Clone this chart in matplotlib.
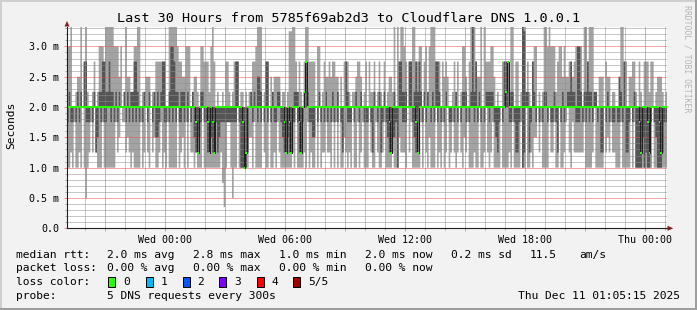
import numpy as np
import pandas as pd
import matplotlib
matplotlib.use("Agg")
import matplotlib.pyplot as plt
import matplotlib.dates as mdates
from matplotlib.ticker import MultipleLocator, FuncFormatter
from matplotlib.patches import Rectangle, Polygon

W, H, DPI = 697, 310, 100

TITLE = "Last 30 Hours from 5785f69ab2d3 to Cloudflare DNS 1.0.0.1"
Y_LABEL = "Seconds"
WATERMARK = "RRDTOOL / TOBI OETIKER"
START = "2025-12-09 19:05"
STEP_MINUTES = 5
LEVEL_MS = 0.25  # one level unit = 0.25 ms

# 5 pings per step, sorted: min, 2nd, median, 4th, max (in 0.25 ms units)
ping_max = [
    12,12,14,8,8,9,10,10,14,8,  11,14,9,8,8,9,11,8,9,12,
    12,12,11,14,14,14,14,14,12,12,  12,10,12,8,9,14,10,10,9,9,
    12,12,14,14,8,9,9,10,10,10,  8,9,9,11,11,11,11,11,11,8,
    8,14,14,14,14,14,12,11,11,10,  10,12,12,12,8,9,10,10,9,8,
    12,12,11,11,11,9,12,14,11,8,  9,8,8,9,8,11,11,9,8,9,
    11,11,11,8,9,9,8,9,8,9,  9,11,11,12,14,14,14,8,9,11,
    11,8,10,9,10,10,10,10,8,9,  9,8,9,13,13,14,14,11,9,11,
    9,8,11,14,14,11,11,11,11,8,  12,12,8,9,11,10,10,11,10,11,
    11,10,10,8,10,8,11,11,11,9,  8,9,9,10,11,11,10,8,9,11,
    8,11,9,9,11,8,9,11,9,8,  11,8,9,10,10,9,14,8,14,11,
    14,14,12,11,8,11,11,14,14,11,  11,12,12,8,11,12,9,12,14,14,
    14,11,11,11,8,11,10,11,10,8,  8,9,11,9,11,8,9,12,12,10,
    8,11,14,14,14,11,10,10,14,8,  14,11,11,11,12,12,10,8,9,8,
    8,11,11,11,11,9,14,14,8,11,  11,8,9,14,14,9,11,9,8,11,
    12,12,8,9,8,9,14,14,12,14,  12,12,12,9,11,12,12,10,12,10,
    10,11,11,10,11,12,12,12,12,8,  14,14,11,14,14,14,9,9,8,10,
    10,10,8,11,10,10,8,9,9,8,  8,10,14,14,11,11,8,10,10,11,
    11,9,8,11,9,8,11,11,11,9,  11,11,8,9,10,10,10,9,8,9,
]
ping_q4 = [
    8,9,8,8,8,8,9,8,9,8,  11,11,8,8,8,8,9,8,8,9,
    9,11,11,9,9,11,9,9,8,9,  8,9,8,8,9,8,9,8,9,9,
    11,11,9,8,8,8,9,8,8,9,  8,8,9,8,9,8,9,11,11,8,
    8,9,12,12,11,9,9,8,9,9,  9,8,9,8,8,9,8,8,8,8,
    9,9,8,8,8,8,8,8,8,8,  8,8,8,8,8,8,8,8,8,8,
    8,11,11,8,8,8,8,8,8,8,  9,8,9,8,10,10,9,8,8,11,
    11,8,8,9,8,8,9,9,8,8,  8,8,8,8,8,8,9,9,9,8,
    8,8,9,11,9,8,8,8,8,8,  8,9,8,8,8,9,8,8,8,9,
    8,8,9,8,8,8,8,11,9,8,  8,8,8,9,8,8,9,8,8,8,
    8,8,8,8,9,8,8,9,8,8,  9,8,8,8,8,8,9,8,8,11,
    11,9,9,9,8,11,11,8,9,11,  9,11,9,8,9,8,9,8,8,9,
    8,11,11,9,8,8,8,9,8,8,  8,8,8,9,8,8,8,9,9,9,
    8,8,9,14,9,11,8,9,8,8,  8,9,9,9,9,9,8,8,8,8,
    8,8,11,11,11,8,9,9,8,8,  8,8,8,14,13,9,9,8,8,11,
    9,8,8,8,8,8,9,9,8,8,  8,8,9,8,8,8,8,9,8,8,
    9,9,11,9,9,8,12,12,9,8,  9,9,11,9,9,8,9,9,8,8,
    8,8,8,8,9,8,8,8,8,8,  8,10,9,8,11,8,8,8,8,8,
    9,8,8,8,8,8,8,8,8,8,  8,8,8,8,8,8,8,8,8,8,
]
ping_median = [
    8,8,8,8,8,8,8,8,8,8,  8,8,8,8,8,8,8,8,8,8,
    8,8,8,8,8,8,8,8,8,8,  8,8,8,8,8,8,8,8,8,8,
    8,8,8,8,8,8,8,8,8,8,  8,8,8,8,8,8,8,8,8,8,
    8,8,8,8,8,8,8,8,8,8,  8,8,8,8,8,8,8,7,5,8,
    8,8,8,8,7,5,8,7,5,8,  8,8,8,8,8,8,8,8,8,8,
    8,8,8,8,8,7,4,5,8,8,  8,8,8,8,8,8,8,8,8,8,
    8,8,8,8,8,8,8,8,8,8,  7,5,8,7,5,8,8,8,8,7,
    5,8,9,11,8,8,8,8,8,8,  8,8,8,8,8,8,8,8,8,8,
    8,8,8,8,8,8,8,8,8,8,  8,8,8,8,8,8,8,8,8,8,
    8,8,8,8,8,8,8,8,8,8,  8,8,8,7,5,8,8,8,8,8,
    8,8,8,8,8,8,8,8,8,7,  5,8,8,8,8,8,8,8,8,8,
    8,8,8,8,8,8,8,8,8,8,  8,8,8,8,8,8,8,8,8,8,
    8,8,8,8,8,8,8,8,8,8,  8,8,8,8,8,8,8,8,8,8,
    8,8,8,9,11,8,8,8,8,8,  8,8,8,8,8,8,8,8,8,8,
    8,8,8,8,8,8,8,8,8,8,  8,8,8,8,8,8,8,8,8,8,
    8,8,8,8,8,8,8,8,8,8,  8,8,8,8,8,8,8,8,8,8,
    8,8,8,8,8,8,8,8,8,8,  8,8,8,8,8,8,8,8,8,8,
    8,8,8,7,5,8,8,8,7,5,  8,8,8,8,8,7,5,8,8,8,
]
ping_q2 = [
    7,8,7,7,8,7,8,7,8,8,  8,7,7,7,8,7,8,5,6,8,
    7,8,7,7,8,8,7,8,7,8,  7,8,8,8,8,7,8,7,8,7,
    8,7,8,7,8,7,8,8,7,8,  8,7,8,6,6,7,8,8,7,7,
    8,7,8,7,8,7,8,7,7,8,  7,8,7,8,7,8,6,5,5,6,
    7,8,7,7,5,5,6,5,5,7,  5,6,7,7,7,7,7,7,7,7,
    7,7,8,7,4,4,4,4,5,8,  8,7,8,8,7,8,7,8,7,8,
    7,8,7,8,7,7,8,8,7,6,  5,5,6,5,5,7,7,8,7,5,
    5,7,8,8,8,7,7,6,6,8,  7,8,7,8,7,8,7,8,7,8,
    7,8,7,8,7,5,8,8,7,7,  7,8,7,8,8,7,8,8,7,7,
    7,8,7,5,8,8,7,8,5,7,  8,7,6,5,5,6,6,7,4,8,
    8,7,7,7,8,8,8,7,6,5,  5,8,8,7,8,7,8,8,7,8,
    7,8,7,8,7,8,7,8,8,7,  7,8,7,8,7,8,7,8,8,7,
    8,7,8,8,7,8,7,8,7,8,  7,8,8,7,8,8,7,6,5,7,
    8,7,8,8,8,7,7,8,7,5,  5,7,8,4,5,8,8,5,7,8,
    8,7,8,7,8,7,8,8,7,8,  7,7,8,7,5,8,7,8,7,8,
    8,8,8,8,8,7,7,7,8,7,  8,7,8,7,8,7,8,8,7,8,
    5,5,8,7,8,7,8,7,7,8,  7,7,8,7,8,5,5,7,8,7,
    8,4,4,4,4,6,4,5,4,4,  7,8,7,6,4,4,4,5,7,7,
]
ping_min = [
    4,4,5,4,7,4,4,5,4,8,  4,2,4,5,7,5,8,5,4,4,
    4,7,4,4,4,4,4,4,4,7,  5,6,8,7,7,5,6,5,4,5,
    4,4,4,4,7,4,5,8,5,4,  8,5,6,4,4,5,7,4,5,4,
    7,4,4,4,4,4,8,4,5,6,  4,7,4,8,5,5,4,5,4,4,
    4,8,4,4,4,4,4,4,4,4,  4,4,5,3,1.4,4,7,7,4,2,
    4,4,8,4,4,4,4,4,4,6,  6,4,7,4,4,4,4,8,5,4,
    4,8,4,4,5,4,7,5,4,4,  4,4,4,4,4,5,4,8,4,4,
    4,4,5,4,7,4,5,4,4,8,  4,8,4,5,5,7,5,5,4,7,
    4,7,4,8,4,4,6,5,4,5,  4,8,4,4,7,4,5,7,4,4,
    4,8,5,4,4,7,5,4,4,5,  7,4,4,4,4,5,4,4,4,6,
    5,5,5,4,8,5,7,4,4,4,  4,4,7,4,8,5,4,6,4,4,
    4,8,4,5,4,7,4,5,8,4,  5,7,5,4,5,8,5,4,6,5,
    7,4,4,4,5,4,4,8,4,4,  5,8,5,4,5,7,4,4,4,4,
    8,4,4,4,4,5,4,7,4,4,  4,4,7,4,4,8,4,4,5,4,
    6,6,8,5,7,4,4,4,4,8,  5,5,7,4,4,8,4,4,5,7,
    8,5,4,7,5,5,5,5,5,5,  7,4,4,4,4,5,8,4,4,4,
    4,4,8,5,6,5,7,5,5,4,  4,4,7,4,4,4,4,4,8,4,
    7,4,4,4,4,4,4,4,4,4,  4,8,4,4,4,4,4,4,4,4,
]

# legend texts
rtt_stats = ["2.0 ms avg", "2.8 ms max", "1.0 ms min", "2.0 ms now", "0.2 ms sd", "11.5", "am/s"]
loss_stats = ["0.00 % avg", "0.00 % max", "0.00 % min", "0.00 % now"]
loss_labels = ["0", "1", "2", "3", "4", "5/5"]
loss_colors = ["#26ff00", "#00b8ff", "#0059ff", "#7e00ff", "#ff0000", "#a10000"]
probe_text = "5 DNS requests every 300s"
stamp_text = "Thu Dec 11 01:05:15 2025"

plt.rcParams['font.family'] = ['DejaVu Sans Mono']


def fx(px):
    return px / W


def fy(py):
    return 1 - py / H


fig = plt.figure(figsize=(W / DPI, H / DPI), dpi=DPI, facecolor='#f2f2f2')
ax = fig.add_axes([fx(67), fy(228.3), fx(667) - fx(67), fy(27) - fy(228.3)])
ax.set_facecolor('white')

t = pd.date_range(START, periods=len(ping_max) + 1, freq=f"{STEP_MINUTES}min")
x = mdates.date2num(t)


def ext(a):
    arr = np.asarray(a, float) * LEVEL_MS
    return np.append(arr, arr[-1])


ax.fill_between(x, ext(ping_min), ext(ping_max), step='post',
                facecolor='#a3a3a3', linewidth=0, zorder=1)
ax.fill_between(x, ext(ping_q2), ext(ping_q4), step='post',
                facecolor='#555555', linewidth=0, zorder=2)
ax.step(x, ext(ping_median), where='post', color='#202020', lw=0.72, zorder=3)
med = np.asarray(ping_median, float) * LEVEL_MS
ax.hlines(med, x[:-1], x[1:], colors=loss_colors[0], lw=1.44, zorder=4)

ax.set_xlim(x[0], x[-1])
ax.set_ylim(0, 3.32)

ax.xaxis.set_major_locator(mdates.HourLocator(byhour=range(0, 24, 3)))
ax.xaxis.set_minor_locator(mdates.HourLocator())


def xfmt(v, pos=None):
    d = mdates.num2date(v)
    return d.strftime('%a %H:%M') if d.hour % 6 == 0 else ''


ax.xaxis.set_major_formatter(FuncFormatter(xfmt))
ax.yaxis.set_major_locator(MultipleLocator(0.5))
ax.yaxis.set_minor_locator(MultipleLocator(0.1))
ax.yaxis.set_major_formatter(FuncFormatter(lambda v, p: '0.0' if abs(v) < 1e-9 else f'{v:.1f} m'))

mgrid = (0.87, 0.31, 0.31, 0.6)
ngrid = (0.56, 0.56, 0.56, 0.75)
ax.set_axisbelow(False)
ax.grid(which='major', color=mgrid, lw=0.72, ls=(0, (1, 1)), snap=True)
ax.grid(which='minor', color=ngrid, lw=0.72, ls=(0, (1, 1)), snap=True)

for s in ('top', 'right'):
    ax.spines[s].set_visible(False)
for s in ('left', 'bottom'):
    ax.spines[s].set_color('#202020')
    ax.spines[s].set_linewidth(0.8)
    ax.spines[s].set_zorder(5)

ax.tick_params(axis='both', which='major', direction='out', length=2.2, width=0.72,
               color=mgrid, labelsize=7.2, labelcolor='black')
ax.tick_params(axis='both', which='minor', direction='out', length=1.4, width=0.72, color=ngrid)
ax.tick_params(axis='x', which='major', pad=2.5)
ax.tick_params(axis='y', which='major', pad=3.4)

# axis arrows
fig.patches.append(Polygon([[fx(64.5), fy(26.5)], [fx(69.5), fy(26.5)], [fx(67), fy(21)]],
                           closed=True, transform=fig.transFigure, facecolor='#801f1f',
                           edgecolor='none', zorder=6))
fig.patches.append(Polygon([[fx(667.5), fy(225.8)], [fx(667.5), fy(230.8)], [fx(673.3), fy(228.3)]],
                           closed=True, transform=fig.transFigure, facecolor='#801f1f',
                           edgecolor='none', zorder=6))

# border shading
fig.patches.append(Rectangle((0, fy(2)), 1, 2 / H, transform=fig.transFigure, facecolor='#cfcfcf', edgecolor='none'))
fig.patches.append(Rectangle((0, 0), 2 / W, 1, transform=fig.transFigure, facecolor='#cfcfcf', edgecolor='none'))
fig.patches.append(Rectangle((0, 0), 1, 2 / H, transform=fig.transFigure, facecolor='#9e9e9e', edgecolor='none'))
fig.patches.append(Rectangle((1 - 2 / W, 0), 2 / W, 1, transform=fig.transFigure, facecolor='#9e9e9e', edgecolor='none'))

# texts
fig.text(fx(348.5), fy(19), TITLE, ha='center', va='center', fontsize=9.7)
fig.text(fx(11), fy(125.5), Y_LABEL, ha='center', va='center', rotation=90, fontsize=8.1)
fig.text(fx(687), fy(59), WATERMARK, ha='center', va='center', rotation=270,
         fontsize=5.9, color='#b5b5b5')

LEG = 8.1
fig.text(fx(16), fy(255), "median rtt:", ha='left', va='center', fontsize=LEG)
for xp, s in zip([107.3, 193.3, 279.3, 365, 451, 530, 579], rtt_stats):
    fig.text(fx(xp), fy(255), s, ha='left', va='center', fontsize=LEG)
fig.text(fx(16), fy(268.3), "packet loss:", ha='left', va='center', fontsize=LEG)
for xp, s in zip([107.3, 193.3, 279.3, 365], loss_stats):
    fig.text(fx(xp), fy(268.3), s, ha='left', va='center', fontsize=LEG)
fig.text(fx(16), fy(281.7), "loss color:", ha='left', va='center', fontsize=LEG)
for bx, lx, lab, col in zip([108.3, 145.7, 182.7, 219.3, 256.7, 293.3],
                            [123.3, 160.7, 197.3, 234.3, 271, 308.3], loss_labels, loss_colors):
    fig.patches.append(Rectangle((fx(bx), fy(287)), 7 / W, 10.5 / H, transform=fig.transFigure,
                                 facecolor=col, edgecolor='black', linewidth=0.72))
    fig.text(fx(lx), fy(281.7), lab, ha='left', va='center', fontsize=LEG)
fig.text(fx(16), fy(296), "probe:", ha='left', va='center', fontsize=LEG)
fig.text(fx(107.3), fy(296), probe_text, ha='left', va='center', fontsize=LEG)
fig.text(fx(680), fy(296), stamp_text, ha='right', va='center', fontsize=LEG)

fig.savefig("out.png", dpi=DPI, facecolor=fig.get_facecolor())
